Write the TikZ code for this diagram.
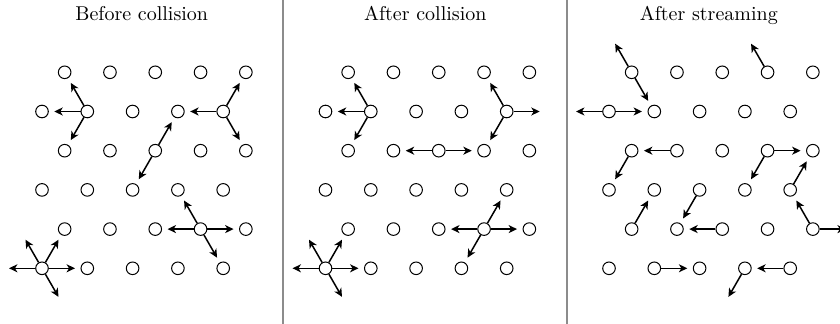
\documentclass[tikz,border=0pt]{standalone}
\usetikzlibrary{calc,arrows.meta}
\tikzset{
  site/.style={circle,draw=black,fill=white,line width=0.5pt,inner sep=0pt,minimum size=6.3pt},
  partarrow/.style={line width=0.75pt,-{Stealth[length=4.2pt,width=4pt,inset=1.2pt]}},
  separator/.style={draw=black!45,line width=0.8pt},
  paneltitle/.style={anchor=base,font=\normalsize}
}
\newcommand\parrow[2]{%
  \coordinate (#1t#2) at ($(#1)+(#2:16.5pt)$);
  \draw[partarrow] (#1) -- (#1t#2);}
\begin{document}
\begin{tikzpicture}[x=0.5pt,y=-0.5pt]
\useasboundingbox (0,0) rectangle (840,324);
\clip (0,0) rectangle (840,324);
% separators
\coordinate (s1a) at (283,0); \coordinate (s1b) at (283,324);
\coordinate (s2a) at (567,0); \coordinate (s2b) at (567,324);
\draw[separator] (s1a) -- (s1b);
\draw[separator] (s2a) -- (s2b);
% titles
\node[paneltitle] (t0) at (141.75,20.5) {Before collision};
\node[paneltitle] (t1) at (425.25,20.5) {After collision};
\node[paneltitle] (t2) at (708.75,20.5) {After streaming};
% lattice sites
\foreach \p in {0,1,2}{
  \foreach \r in {1,...,6}{
    \foreach \c in {0,...,4}{
      \pgfmathsetmacro\xx{283.5*\p + 42 + 45.3*\c + 22.65*mod(\r,2)}
      \pgfmathsetmacro\yy{72.3 + 39.2*(\r-1)}
      \node[site] (p\p-\r-\c) at (\xx,\yy) {};
    }
  }
}
% panel 1: before collision
\foreach \a in {180,120,240}{\parrow{p0-2-1}{\a}}
\foreach \a in {180,60,300}{\parrow{p0-2-4}{\a}}
\foreach \a in {60,240}{\parrow{p0-3-2}{\a}}
\foreach \a in {180,0,120,300}{\parrow{p0-5-3}{\a}}
\foreach \a in {180,0,120,60,300}{\parrow{p0-6-0}{\a}}
% panel 2: after collision
\foreach \a in {180,120,240}{\parrow{p1-2-1}{\a}}
\foreach \a in {0,120,240}{\parrow{p1-2-4}{\a}}
\foreach \a in {180,0}{\parrow{p1-3-2}{\a}}
\foreach \a in {180,0,60,240}{\parrow{p1-5-3}{\a}}
\foreach \a in {180,0,120,60,300}{\parrow{p1-6-0}{\a}}
% panel 3: after streaming
\foreach \a in {120,300}{\parrow{p2-1-0}{\a}}
\parrow{p2-1-3}{120}
\foreach \a in {180,0}{\parrow{p2-2-0}{\a}}
\parrow{p2-3-0}{240}
\parrow{p2-3-1}{180}
\foreach \a in {0,240}{\parrow{p2-3-3}{\a}}
\parrow{p2-4-2}{240}
\parrow{p2-4-4}{60}
\parrow{p2-5-0}{60}
\parrow{p2-5-2}{180}
\foreach \a in {120,0}{\parrow{p2-5-4}{\a}}
\parrow{p2-6-1}{0}
\parrow{p2-6-3}{240}
\parrow{p2-6-4}{180}
\end{tikzpicture}
\end{document}
